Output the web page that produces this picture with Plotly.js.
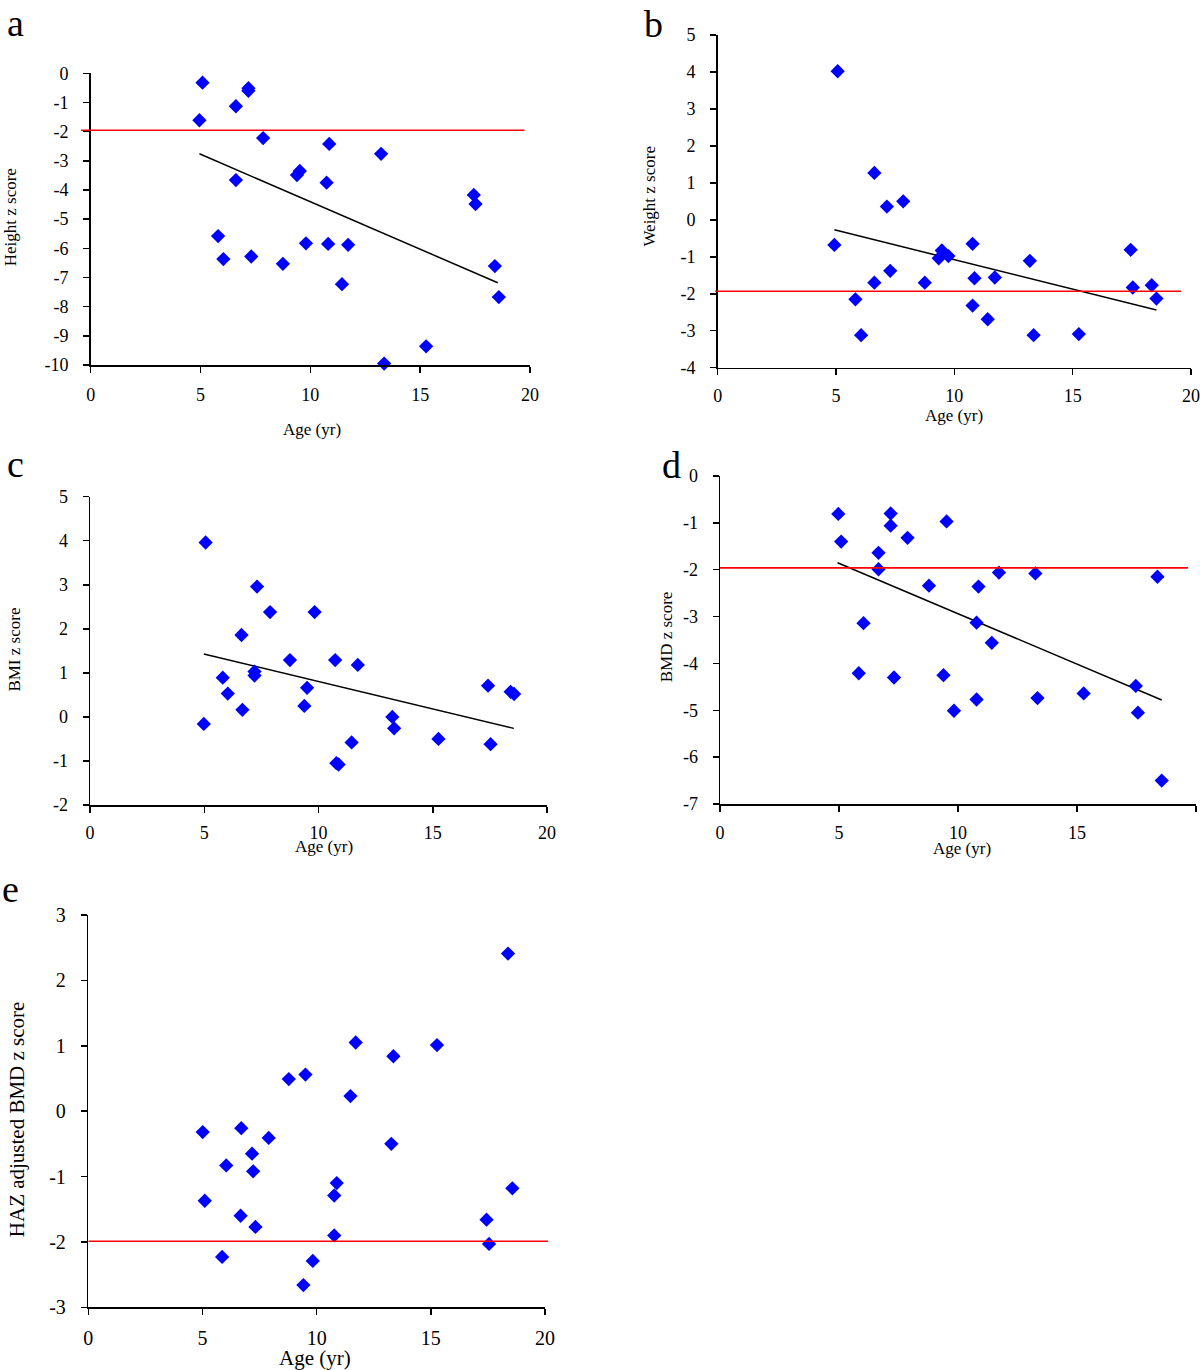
<!DOCTYPE html>
<html><head><meta charset="utf-8">
<script src="https://cdn.plot.ly/plotly-3.0.1.min.js"></script>
<style>body{margin:0;background:#fff}#chart{width:1200px;height:1370px}</style>
</head><body><div id="chart"></div><script>
// ---------- DATA ----------
const xTickVals = [0, 5, 10, 15, 20];
const xTickText = ['0', '5', '10', '15', '20'];

const aAge = [4.95,5.09,6.61,7.18,7.18,7.85,6.61,5.80,6.04,7.31,8.75,9.39,9.52,9.80,10.86,10.74,10.81,11.72,11.44,13.22,13.36,15.27,17.44,17.52,18.40,18.58];
const aHeightZ = [-1.61,-0.32,-1.13,-0.51,-0.60,-2.22,-3.66,-5.58,-6.37,-6.28,-6.53,-3.49,-3.35,-5.83,-2.42,-3.75,-5.85,-5.88,-7.23,-2.76,-9.95,-9.36,-4.17,-4.48,-6.61,-7.67];
const aTrendX = [4.95, 18.53];
const aTrendY = [-2.76, -7.18];
const aRefX = [-0.44, 19.76];
const aRefY = [-1.95, -1.95];
const aYTicks = [0,-1,-2,-3,-4,-5,-6,-7,-8,-9,-10];
const aYTickText = ['0','-1','-2','-3','-4','-5','-6','-7','-8','-9','-10'];

const bAge = [4.93,5.07,5.82,6.06,6.62,6.62,7.15,7.29,7.84,8.75,9.34,9.47,9.75,10.77,10.77,10.85,11.41,11.71,13.19,13.35,15.26,17.45,17.54,18.34,18.54];
const bWeightZ = [-0.68,4.02,-2.15,-3.12,1.27,-1.70,0.36,-1.38,0.50,-1.70,-1.04,-0.83,-0.98,-0.65,-2.32,-1.58,-2.69,-1.56,-1.11,-3.12,-3.09,-0.81,-1.83,-1.77,-2.13];
const bTrendX = [4.93, 18.54];
const bTrendY = [-0.27, -2.44];
const bRefX = [-0.11, 19.59];
const bRefY = [-1.93, -1.93];
const bYTicks = [5,4,3,2,1,0,-1,-2,-3,-4];
const bYTickText = ['5','4','3','2','1','0','-1','-2','-3','-4'];

const cAge = [4.98,5.06,5.81,6.03,6.63,6.67,7.20,7.20,7.31,7.88,8.75,9.38,9.50,9.83,10.73,10.78,10.88,11.45,11.72,13.23,13.31,15.25,17.42,17.53,18.41,18.56];
const cBmiZ = [-0.16,3.96,0.89,0.53,1.86,0.16,1.03,0.94,2.96,2.38,1.29,0.25,0.66,2.38,1.29,-1.05,-1.08,-0.58,1.18,0.00,-0.26,-0.50,0.71,-0.62,0.57,0.52];
const cTrendX = [4.98, 18.55];
const cTrendY = [1.43, -0.26];
const cYTicks = [5,4,3,2,1,0,-1,-2];
const cYTickText = ['5','4','3','2','1','0','-1','-2'];

const dAge = [4.97,5.09,5.83,6.03,6.66,6.66,7.17,7.17,7.31,7.88,8.78,9.39,9.52,9.83,10.78,10.78,10.86,11.42,11.72,13.25,13.34,15.28,17.47,17.56,18.38,18.56];
const dBmdZ = [-0.81,-1.40,-4.21,-3.14,-1.64,-1.99,-0.80,-1.06,-4.30,-1.32,-2.34,-4.25,-0.97,-5.01,-4.77,-3.13,-2.36,-3.56,-2.06,-2.08,-4.74,-4.64,-4.48,-5.05,-2.15,-6.50];
const dTrendX = [4.94, 18.56];
const dTrendY = [-1.85, -4.78];
const dRefX = [0, 19.66];
const dRefY = [-1.96, -1.96];
const dYTicks = [0,-1,-2,-3,-4,-5,-6,-7];
const dYTickText = ['0','-1','-2','-3','-4','-5','-6','-7'];

const eAge = [5.01,5.10,5.86,6.04,6.67,6.70,7.17,7.22,7.32,7.90,8.78,9.51,9.42,9.83,10.77,10.88,10.77,11.48,11.71,13.27,13.36,15.27,17.44,17.55,18.38,18.57];
const eHazBmdZ = [-0.32,-1.37,-2.23,-0.83,-1.60,-0.26,-0.65,-0.92,-1.77,-0.41,0.49,0.56,-2.66,-2.29,-1.29,-1.10,-1.90,0.23,1.05,-0.50,0.84,1.01,-1.66,-2.03,2.41,-1.18];
const eRefX = [0, 20.14];
const eRefY = [-1.99, -1.99];
const eYTicks = [3,2,1,0,-1,-2,-3];
const eYTickText = ['3','2','1','0','-1','-2','-3'];

const panelLetters = ['a','b','c','d','e'];
const yTitles = ['Height z score','Weight z score','BMI z score','BMD z score','HAZ adjusted BMD z score'];
const xTitle = 'Age (yr)';

// ---------- LAYOUT GEOMETRY (pixels) ----------
const W = 1200, H = 1370;
const FONT = 'Liberation Serif, Times New Roman, serif';
const geo = [
  {x0:90.7, x1:530,   yT:73.3,  yB:365,   yr:[-10,0], fs:18, tfs:17, xso:7, ytx:10.8,  yty:217.5, xtx:312,   xty:430,   lx:5,   lb:35},
  {x0:717.7,x1:1191,  yT:35,    yB:367.7, yr:[-4,5],  fs:18, tfs:17, xso:5, ytx:649.6, yty:196,   xtx:954,   xty:415,   lx:642, lb:36},
  {x0:90,   x1:547,   yT:496.7, yB:805,   yr:[-2,5],  fs:18, tfs:17, xso:5, ytx:13.6,  yty:650,   xtx:323.8, xty:846.7, lx:5,   lb:476},
  {x0:720,  x1:1196,  yT:476,   yB:804,   yr:[-7,0],  fs:18, tfs:17, xso:6, ytx:666.3, yty:637,   xtx:961.5, xty:848,   lx:660, lb:477},
  {x0:88.3, x1:545,   yT:915,   yB:1307.3,yr:[-3,3],  fs:20, tfs:21, xso:6, ytx:17.2,  yty:1119,  xtx:314.8, xty:1358,  lx:0,   lb:901}
];
const series = [
  {x:aAge, y:aHeightZ, tx:aTrendX, ty:aTrendY, rx:aRefX, ry:aRefY, yt:aYTicks, ytt:aYTickText},
  {x:bAge, y:bWeightZ, tx:bTrendX, ty:bTrendY, rx:bRefX, ry:bRefY, yt:bYTicks, ytt:bYTickText},
  {x:cAge, y:cBmiZ,    tx:cTrendX, ty:cTrendY, rx:null,  ry:null,  yt:cYTicks, ytt:cYTickText},
  {x:dAge, y:dBmdZ,    tx:dTrendX, ty:dTrendY, rx:dRefX, ry:dRefY, yt:dYTicks, ytt:dYTickText},
  {x:eAge, y:eHazBmdZ, tx:null,    ty:null,    rx:eRefX, ry:eRefY, yt:eYTicks, ytt:eYTickText}
];

const px = v => v / W;
const py = v => 1 - v / H;

const traces = [];
const layout = {
  width: W, height: H,
  margin: {l:0, r:0, t:0, b:0},
  paper_bgcolor: '#fff', plot_bgcolor: 'rgba(0,0,0,0)',
  showlegend: false,
  font: {family: FONT, color: '#000'},
  annotations: []
};

series.forEach((s, i) => {
  const g = geo[i];
  const n = i + 1;
  const xa = 'x' + n, ya = 'y' + n;
  const axCommon = {
    showline: true, linecolor: '#000', linewidth: 1.5,
    ticks: 'outside', ticklen: 6, tickwidth: 1.5, tickcolor: '#000',
    showgrid: false, zeroline: false, fixedrange: true,
    tickfont: {family: FONT, size: g.fs, color: '#000'}
  };
  layout['xaxis' + n] = Object.assign({}, axCommon, {
    domain: [px(g.x0), px(g.x1)], range: [0, 20], anchor: ya,
    tickmode: 'array', tickvals: xTickVals, ticktext: xTickText,
    ticklabelstandoff: g.xso
  });
  layout['yaxis' + n] = Object.assign({}, axCommon, {
    domain: [py(g.yB), py(g.yT)], range: g.yr, anchor: xa,
    tickmode: 'array', tickvals: s.yt, ticktext: s.ytt,
    ticklabelstandoff: 11
  });

  if (s.rx) {
    // hidden axis with identical scale, wider domain, so the reference line may cross the y axis
    const m = n + 5;
    const scale = (g.x1 - g.x0) / 20;
    layout['xaxis' + m] = {
      domain: [px(g.x0 + s.rx[0] * scale), px(g.x0 + s.rx[1] * scale)],
      range: [s.rx[0], s.rx[1]], anchor: ya, visible: false, fixedrange: true
    };
    traces.push({x: s.rx, y: s.ry, xaxis: 'x' + m, yaxis: ya, mode: 'lines',
      line: {color: '#ff0000', width: 1.6}, hoverinfo: 'skip'});
  }
  if (s.tx) {
    traces.push({x: s.tx, y: s.ty, xaxis: xa, yaxis: ya, mode: 'lines',
      line: {color: '#000', width: 1.5}, hoverinfo: 'skip'});
  }
  traces.push({x: s.x, y: s.y, xaxis: xa, yaxis: ya, mode: 'markers', cliponaxis: false,
    marker: {symbol: 'diamond', size: 11, color: '#0000ff', line: {width: 0}}});

  // axis titles
  layout.annotations.push({text: yTitles[i], xref: 'paper', yref: 'paper',
    x: px(g.ytx), y: py(g.yty), xanchor: 'center', yanchor: 'middle', textangle: -90,
    showarrow: false, font: {family: FONT, size: g.tfs, color: '#000'}});
  layout.annotations.push({text: xTitle, xref: 'paper', yref: 'paper',
    x: px(g.xtx), y: py(g.xty), xanchor: 'center', yanchor: 'middle',
    showarrow: false, font: {family: FONT, size: g.tfs, color: '#000'}});
  // panel letter (38px font, centre ~0.3em above baseline)
  layout.annotations.push({text: panelLetters[i], xref: 'paper', yref: 'paper',
    x: px(g.lx), y: py(g.lb - 12), xanchor: 'left', yanchor: 'middle',
    showarrow: false, font: {family: FONT, size: 38, color: '#000'}});
});

Plotly.newPlot('chart', traces, layout, {staticPlot: true});
</script></body></html>
